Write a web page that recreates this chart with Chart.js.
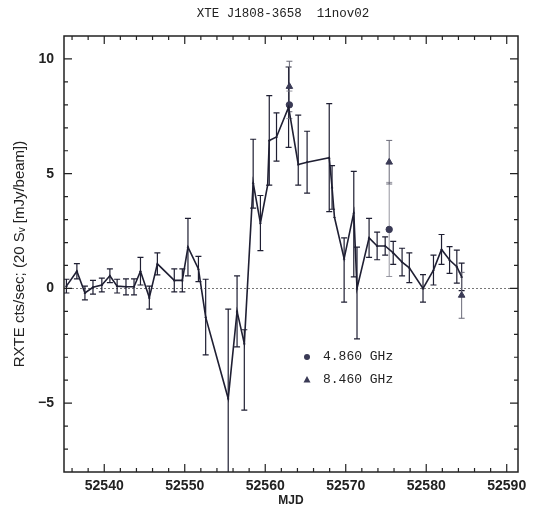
<!DOCTYPE html>
<html>
<head>
<meta charset="utf-8">
<script src="https://cdn.jsdelivr.net/npm/chart.js@4.4.0/dist/chart.umd.min.js"></script>
<style>
  body { margin: 0; background: #fff; }
</style>
</head>
<body>
<canvas id="myChart" width="545" height="512"></canvas>
<script>
// RXTE count rate
const mjd = [52535.3, 52536.6, 52537.6, 52538.6, 52539.7, 52540.7, 52541.6, 52542.7, 52543.7, 52544.5,
  52545.6, 52546.6, 52548.7, 52549.7, 52550.4, 52551.7, 52552.6, 52555.4, 52556.5, 52557.4,
  52558.5, 52559.4, 52560.3, 52560.5, 52561.4, 52562.9, 52564.1, 52565.2, 52567.95, 52568.3,
  52568.6, 52569.8, 52571.0, 52571.4, 52572.9, 52573.9, 52574.9, 52575.9, 52577.0, 52577.9,
  52579.6, 52580.9, 52581.9, 52582.9, 52583.8, 52584.4];
const rate = [0.1, 0.75, -0.2, 0.05, 0.15, 0.55, 0.1, 0.07, 0.07, 0.75,
  -0.4, 1.07, 0.35, 0.35, 1.8, 0.85, -1.25, -4.8, -1.0, -2.4,
  4.6, 2.85, 4.5, 6.45, 6.6, 7.9, 5.4, 5.5, 5.7, 4.4,
  3.1, 1.3, 3.3, 0.0, 2.2, 1.85, 1.85, 1.55, 1.15, 0.9,
  0.0, 0.8, 1.7, 1.24, 0.95, 0.5];
const rateErrLo = [0.3, 0.33, 0.3, 0.3, 0.3, 0.3, 0.3, 0.35, 0.35, 0.6,
  0.5, 0.48, 0.5, 0.5, 1.25, 0.55, 1.65, 3.9, 1.55, 2.9,
  1.1, 1.2, 0, 1.95, 1.05, 1.75, 0.9, 1.35, 2.35, 0.95,
  0, 1.9, 2.8, 2.2, 0.85, 0.6, 0.4, 0.5, 0.6, 0.65,
  0.6, 0.65, 0.65, 0.58, 0.72, 0.6];
const rateErrHi = [0.3, 0.33, 0.3, 0.3, 0.3, 0.3, 0.3, 0.35, 0.35, 0.6,
  0.5, 0.48, 0.5, 0.5, 1.25, 0.55, 1.65, 3.9, 1.55, 0.6,
  1.9, 1.2, 0, 1.95, 1.05, 1.75, 2.15, 1.35, 2.35, 0.95,
  0, 0.9, 1.8, 1.8, 0.85, 0.6, 0.4, 0.5, 0.6, 0.65,
  0.6, 0.65, 0.65, 0.58, 0.72, 0.6];

// radio, 20 x flux density
const mjd4860 = [52563.0, 52575.4];
const flux4860 = [8.0, 2.57];
const err4860 = [0.6, 2.05];
const mjd8460 = [52563.0, 52575.4, 52584.4];
const flux8460 = [8.8, 5.5, -0.3];
const err8460 = [1.1, 0.95, 1.0];

const xTicks = [52540, 52550, 52560, 52570, 52580, 52590];
const yTicks = [-5, 0, 5, 10];

const ink = '#1f1f33';

const errorBars = {
  id: 'errorBars',
  beforeDatasetsDraw(chart) {
    const { ctx, chartArea: a, scales: { x, y } } = chart;
    ctx.save();
    ctx.beginPath();
    ctx.rect(a.left, a.top, a.width, a.height);
    ctx.clip();
    // dotted zero line
    ctx.strokeStyle = '#555';
    ctx.lineWidth = 0.8;
    ctx.setLineDash([2, 2]);
    ctx.beginPath();
    ctx.moveTo(a.left, y.getPixelForValue(0));
    ctx.lineTo(a.right, y.getPixelForValue(0));
    ctx.stroke();
    ctx.setLineDash([]);
    chart.data.datasets.forEach(ds => {
      if (!ds.errLo) return;
      ctx.strokeStyle = ds.barColor;
      ctx.lineWidth = ds.barWidth;
      ds.data.forEach((p, i) => {
        const lo = ds.errLo[i], hi = ds.errHi[i];
        if (!lo && !hi) return;
        const px = x.getPixelForValue(p.x);
        const y1 = y.getPixelForValue(p.y - lo);
        const y2 = y.getPixelForValue(p.y + hi);
        ctx.beginPath();
        ctx.moveTo(px, y1); ctx.lineTo(px, y2);
        ctx.moveTo(px - 3, y1); ctx.lineTo(px + 3, y1);
        ctx.moveTo(px - 3, y2); ctx.lineTo(px + 3, y2);
        ctx.stroke();
      });
    });
    ctx.restore();
  }
};

const frame = {
  id: 'frame',
  afterDraw(chart) {
    const { ctx, chartArea: a, scales: { x, y } } = chart;
    ctx.save();
    ctx.strokeStyle = '#222';
    ctx.lineWidth = 1.5;
    ctx.strokeRect(a.left, a.top, a.width, a.height);
    ctx.lineWidth = 1.2;
    ctx.beginPath();
    for (let v = 52536; v <= 52590; v += 2) {
      const px = x.getPixelForValue(v);
      const len = v % 10 === 0 ? 8 : 4;
      ctx.moveTo(px, a.bottom); ctx.lineTo(px, a.bottom - len);
      ctx.moveTo(px, a.top); ctx.lineTo(px, a.top + len);
    }
    for (let v = -7; v <= 10; v++) {
      const py = y.getPixelForValue(v);
      const len = v % 5 === 0 ? 8 : 4;
      ctx.moveTo(a.left, py); ctx.lineTo(a.left + len, py);
      ctx.moveTo(a.right, py); ctx.lineTo(a.right - len, py);
    }
    ctx.stroke();

    ctx.fillStyle = '#222';
    ctx.textAlign = 'center';
    ctx.textBaseline = 'middle';
    ctx.font = '12.5px "Liberation Mono"';
    ctx.fillText('XTE J1808-3658  11nov02', 283, 14);
    ctx.font = 'bold 12px "Liberation Sans"';
    ctx.fillText('MJD', (a.left + a.right) / 2, 501);
    ctx.save();
    ctx.translate(20, (a.top + a.bottom) / 2);
    ctx.rotate(-Math.PI / 2);
    ctx.font = '15px "Liberation Sans"';
    ctx.fillText('RXTE cts/sec; (20 S\u1d65 [mJy/beam])', 0, 0);
    ctx.restore();

    // legend
    const lx = a.left + 243, ly1 = a.top + 321, ly2 = a.top + 344;
    ctx.fillStyle = '#3a3a55';
    ctx.beginPath();
    ctx.arc(lx, ly1, 3, 0, Math.PI * 2);
    ctx.fill();
    ctx.beginPath();
    ctx.moveTo(lx, ly2 - 4); ctx.lineTo(lx + 3.5, ly2 + 2.5); ctx.lineTo(lx - 3.5, ly2 + 2.5);
    ctx.closePath();
    ctx.fill();
    ctx.fillStyle = '#222';
    ctx.textAlign = 'left';
    ctx.font = '13px "Liberation Mono"';
    ctx.fillText('4.860 GHz', lx + 16, ly1);
    ctx.fillText('8.460 GHz', lx + 16, ly2);
    ctx.restore();
  }
};

const ctx = document.getElementById('myChart').getContext('2d');

new Chart(ctx, {
  type: 'scatter',
  data: {
    datasets: [{
      label: 'RXTE',
      data: mjd.map((m, i) => ({ x: m, y: rate[i] })),
      showLine: true,
      borderColor: ink,
      borderWidth: 1.6,
      pointStyle: 'triangle',
      pointRadius: 1.6,
      pointBackgroundColor: ink,
      pointBorderWidth: 0,
      errLo: rateErrLo,
      errHi: rateErrHi,
      barColor: ink,
      barWidth: 1.2
    }, {
      label: '4.860 GHz',
      data: mjd4860.map((m, i) => ({ x: m, y: flux4860[i] })),
      pointStyle: 'circle',
      pointRadius: 3.2,
      pointBackgroundColor: '#3a3a55',
      pointBorderColor: '#3a3a55',
      errLo: err4860,
      errHi: err4860,
      barColor: '#8a8a95',
      barWidth: 0.9
    }, {
      label: '8.460 GHz',
      data: mjd8460.map((m, i) => ({ x: m, y: flux8460[i] })),
      pointStyle: 'triangle',
      pointRadius: 3.8,
      pointBackgroundColor: '#3a3a55',
      pointBorderColor: '#3a3a55',
      errLo: err8460,
      errHi: err8460,
      barColor: '#6a6a78',
      barWidth: 1.0
    }]
  },
  options: {
    responsive: false,
    animation: false,
    devicePixelRatio: 1,
    layout: { padding: { top: 36, right: 27, bottom: 0, left: 0 } },
    plugins: { legend: { display: false }, tooltip: { enabled: false } },
    scales: {
      x: {
        type: 'linear',
        min: 52535,
        max: 52591.4,
        afterBuildTicks: s => { s.ticks = xTicks.map(v => ({ value: v })); },
        afterFit: s => { s.height = 40; },
        grid: { display: false, drawTicks: false },
        border: { display: false },
        ticks: {
          padding: 6,
          color: '#222',
          font: { family: 'Liberation Sans', size: 14, weight: 'bold' },
          callback: v => String(v)
        }
      },
      y: {
        min: -8,
        max: 11,
        afterBuildTicks: s => { s.ticks = yTicks.map(v => ({ value: v })); },
        afterFit: s => { s.width = 64; },
        grid: { display: false, drawTicks: false },
        border: { display: false },
        ticks: {
          padding: 10,
          color: '#222',
          font: { family: 'Liberation Sans', size: 14, weight: 'bold' },
          callback: v => v < 0 ? '\u2212' + Math.abs(v) : String(v)
        }
      }
    }
  },
  plugins: [errorBars, frame]
});
</script>
</body>
</html>
